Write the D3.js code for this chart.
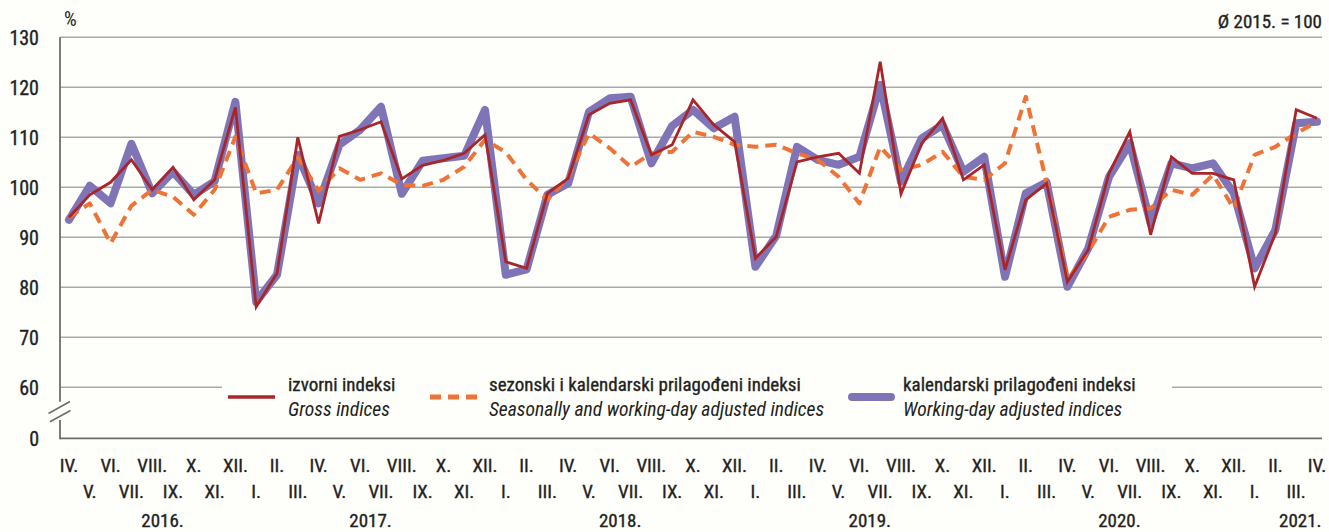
<!DOCTYPE html>
<html>
<head>
<meta charset="utf-8">
<script src="https://cdn.jsdelivr.net/npm/d3@7"></script>
<style>
  html, body { margin: 0; padding: 0; background: #fefefb; }
  svg { display: block; }
  text { font-family: 'Liberation Sans Narrow', 'Roboto Condensed', 'DejaVu Sans Condensed', 'Liberation Sans', sans-serif; fill: #231f20; }
  .bold { stroke: #231f20; stroke-width: 0.35px; }
</style>
</head>
<body>
<svg id="chart" width="1329" height="532"></svg>
<script>
// ---- data ----
const months = ["IV.","V.","VI.","VII.","VIII.","IX.","X.","XI.","XII.",
  "I.","II.","III.","IV.","V.","VI.","VII.","VIII.","IX.","X.","XI.","XII.",
  "I.","II.","III.","IV.","V.","VI.","VII.","VIII.","IX.","X.","XI.","XII.",
  "I.","II.","III.","IV.","V.","VI.","VII.","VIII.","IX.","X.","XI.","XII.",
  "I.","II.","III.","IV.","V.","VI.","VII.","VIII.","IX.","X.","XI.","XII.",
  "I.","II.","III.","IV."];
const monthYear = [2016,2016,2016,2016,2016,2016,2016,2016,2016,
  2017,2017,2017,2017,2017,2017,2017,2017,2017,2017,2017,2017,
  2018,2018,2018,2018,2018,2018,2018,2018,2018,2018,2018,2018,
  2019,2019,2019,2019,2019,2019,2019,2019,2019,2019,2019,2019,
  2020,2020,2020,2020,2020,2020,2020,2020,2020,2020,2020,2020,
  2021,2021,2021,2021];
const years = ["2016.","2017.","2018.","2019.","2020.","2021."];

const gross = [94,98.5,101,105.5,99.5,104,97.5,101.5,116,
  76.1,82.8,110,92.8,110.2,111.5,113.1,101.7,104.4,105.4,106.8,110.5,
  85.1,83.8,98.8,101.8,114.5,116.8,117.5,106.5,108.5,117.5,112.5,109.1,
  85.8,90.1,105.1,106.1,106.8,102.8,125.1,98.7,108.8,113.8,101.5,104.5,
  83.5,97.5,100.8,81.1,87.5,102.8,111.1,90.5,106.1,102.8,102.8,101.5,
  80.1,90.8,115.5,113.8];
const seasonal = [94,96.8,88.8,96.3,99.5,98.1,94.5,99.5,110.1,
  98.8,99.5,106,99.3,103.8,101.5,102.8,100.5,100.3,101.5,104.1,109.5,
  107,101.5,97.5,102,110.8,107.8,104.1,106.8,107.1,111.1,110.1,108.5,
  108.1,108.5,106.8,105.5,102.1,96.8,108.1,103.5,104.5,107.1,102.1,101.5,
  104.8,118.1,101,81.5,87.1,94.1,95.5,95.8,99.5,98.5,102.5,95.8,
  106.5,108.1,110.8,113.1];
const workday = [93.5,100.3,96.8,108.7,98.8,103.1,98.5,101.2,117.1,
  77.1,82.5,106.5,96.8,108.5,111.5,116.1,98.7,105.3,105.8,106.3,115.5,
  82.5,83.6,98.5,100.8,115.1,117.8,118.1,104.8,112.3,115.5,111.8,114.1,
  84.1,90.3,108.1,105.5,104.5,106.1,120.5,101.1,109.8,112.5,103.1,106.1,
  82.1,98.8,101,80.1,87.8,102.1,108.8,92.8,104.8,103.8,104.8,98.8,
  83.8,91.5,112.8,113.1];
const yTicks = [0,60,70,80,90,100,110,120,130];
const legendLabels = ["izvorni indeksi","sezonski i kalendarski prilagođeni indeksi","kalendarski prilagođeni indeksi"];
const legendLabelsEn = ["Gross indices","Seasonally and working-day adjusted indices","Working-day adjusted indices"];

// ---- chart ----
const svg = d3.select("#chart");
const left = 60, right = 1322;
const x = d3.scaleLinear().domain([0, months.length - 1]).range([69, 1317]);
const y = d3.scaleLinear().domain([0, 60, 130]).range([438.3, 387.3, 37.3]);

// gridlines
const grid = svg.append("g");
yTicks.filter(t => t >= 60).forEach(t => {
  grid.append("line").attr("x1", left).attr("x2", right)
    .attr("y1", y(t)).attr("y2", y(t))
    .attr("stroke", "#a9a9a9").attr("stroke-width", 1.6);
});

// y tick labels via axis
const yAxis = d3.axisLeft(y).tickValues(yTicks).tickSize(0).tickPadding(0);
const gy = svg.append("g").attr("transform", "translate(39,0)").call(yAxis);
gy.select(".domain").remove();
gy.selectAll("text").attr("font-size", 20).attr("dy", "0.36em").attr("class", "bold")
  .style("font-family", "'Liberation Sans Narrow', 'Roboto Condensed', sans-serif").attr("fill", "#231f20");

// axis lines with break
const axisColor = "#6d6d6d";
svg.append("line").attr("x1", left).attr("x2", left).attr("y1", y(130)).attr("y2", 401.7)
  .attr("stroke", axisColor).attr("stroke-width", 1.8);
svg.append("line").attr("x1", left).attr("x2", left).attr("y1", 420).attr("y2", y(0) + 0.9)
  .attr("stroke", axisColor).attr("stroke-width", 1.8);
svg.append("line").attr("x1", 48.5).attr("x2", 70).attr("y1", 413.5).attr("y2", 401.5)
  .attr("stroke", axisColor).attr("stroke-width", 1.6);
svg.append("line").attr("x1", 50).attr("x2", 70.5).attr("y1", 421.8).attr("y2", 410.5)
  .attr("stroke", axisColor).attr("stroke-width", 1.6);
svg.append("line").attr("x1", left).attr("x2", right).attr("y1", y(0)).attr("y2", y(0))
  .attr("stroke", axisColor).attr("stroke-width", 1.8);

// legend background (interrupts the 60 gridline)
svg.append("rect").attr("x", 222).attr("y", 370).attr("width", 950).attr("height", 55)
  .attr("fill", "#fefefb");

// series
const line = d3.line().x((d, i) => x(i)).y(d => y(d));
svg.append("path").datum(workday).attr("d", line).attr("fill", "none")
  .attr("stroke", "#7f75b6").attr("stroke-width", 8).attr("stroke-linejoin", "round").attr("stroke-linecap", "round");
svg.append("path").datum(seasonal).attr("d", line).attr("fill", "none")
  .attr("stroke", "#ee7337").attr("stroke-width", 4).attr("stroke-dasharray", "11,7").attr("stroke-linejoin", "round");
svg.append("path").datum(gross).attr("d", line).attr("fill", "none")
  .attr("stroke", "#a8262b").attr("stroke-width", 2.8).attr("stroke-linejoin", "miter");

// legend
const lg = svg.append("g");
const legX = [228, 430, 848];
const legTextX = [288, 489, 903];
lg.append("line").attr("x1", legX[0]).attr("x2", legX[0] + 47).attr("y1", 397).attr("y2", 397)
  .attr("stroke", "#a8262b").attr("stroke-width", 3.5);
lg.append("line").attr("x1", legX[1]).attr("x2", legX[1] + 48).attr("y1", 397).attr("y2", 397)
  .attr("stroke", "#ee7337").attr("stroke-width", 5).attr("stroke-dasharray", "11,7");
lg.append("line").attr("x1", legX[2] + 4).attr("x2", legX[2] + 43).attr("y1", 397).attr("y2", 397)
  .attr("stroke", "#7f75b6").attr("stroke-width", 8).attr("stroke-linecap", "round");
legendLabels.forEach((t, i) => {
  lg.append("text").attr("x", legTextX[i]).attr("y", 391).attr("font-size", 19)
    .attr("class", "bold").attr("stroke-width", 0.2).text(t);
  lg.append("text").attr("x", legTextX[i]).attr("y", 416).attr("font-size", 19.6)
    .attr("font-style", "italic").attr("fill", "#4a4a4a").text(legendLabelsEn[i]);
});

// x labels
const xl = svg.append("g");
months.forEach((m, i) => {
  xl.append("text").attr("x", x(i)).attr("y", i % 2 === 0 ? 472 : 498)
    .attr("text-anchor", "middle").attr("font-size", 19).attr("class", "bold").text(m);
});
const uniqYears = Array.from(new Set(monthYear));
uniqYears.forEach((yr, k) => {
  const idx = monthYear.map((v, i) => v === yr ? i : -1).filter(i => i >= 0);
  let c = (idx[0] + idx[idx.length - 1]) / 2;
  if (k === 0) c += 0.5;
  if (k === uniqYears.length - 1) c += 0.7;
  xl.append("text").attr("x", x(c)).attr("y", 527).attr("text-anchor", "middle")
    .attr("font-size", 19).attr("class", "bold").text(years[k]);
});

// top labels
svg.append("text").attr("x", 64).attr("y", 26).attr("font-size", 20).text("%");
svg.append("text").attr("x", 1322).attr("y", 28).attr("font-size", 19).attr("text-anchor", "end")
  .attr("class", "bold").text("Ø 2015. = 100");
</script>
</body>
</html>
